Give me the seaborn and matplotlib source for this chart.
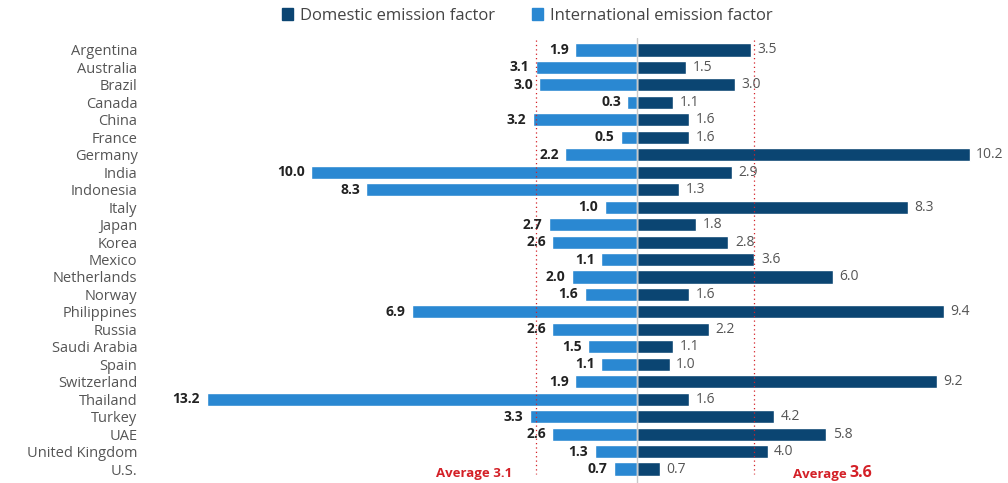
import numpy as np
import pandas as pd
import matplotlib.pyplot as plt
import seaborn as sns
from matplotlib.patches import Patch

countries = ["Argentina", "Australia", "Brazil", "Canada", "China", "France", "Germany", "India",
             "Indonesia", "Italy", "Japan", "Korea", "Mexico", "Netherlands", "Norway", "Philippines",
             "Russia", "Saudi Arabia", "Spain", "Switzerland", "Thailand", "Turkey", "UAE",
             "United Kingdom", "U.S."]
international = [1.9, 3.1, 3.0, 0.3, 3.2, 0.5, 2.2, 10.0, 8.3, 1.0, 2.7, 2.6, 1.1, 2.0, 1.6, 6.9,
                 2.6, 1.5, 1.1, 1.9, 13.2, 3.3, 2.6, 1.3, 0.7]
domestic = [3.5, 1.5, 3.0, 1.1, 1.6, 1.6, 10.2, 2.9, 1.3, 8.3, 1.8, 2.8, 3.6, 6.0, 1.6, 9.4,
            2.2, 1.1, 1.0, 9.2, 1.6, 4.2, 5.8, 4.0, 0.7]
avg_international = 3.1
avg_domestic = 3.6

dark_blue = "#0b4572"
light_blue = "#2a88d2"
red = "#d42027"

df = pd.DataFrame({"country": countries, "international": international, "domestic": domestic})
df["int_neg"] = -df["international"]

sns.set_style("white")
plt.rcParams['font.family'] = ['Open Sans', 'DejaVu Sans']

fig = plt.figure(figsize=(10.08, 4.83), dpi=100)
ax = fig.add_axes([150 / 1008, 0, 850 / 1008, 445 / 483])

sns.barplot(data=df, y="country", x="domestic", color=dark_blue, orient="h", width=0.75,
            saturation=1, ax=ax)
sns.barplot(data=df, y="country", x="int_neg", color=light_blue, orient="h", width=0.75,
            saturation=1, ax=ax)

ax.set_xlim(-14.94, 11.13)
ax.set_ylim(24.80, -0.687)

# center line
ax.axvline(0, color="#c8c8c8", lw=1, zorder=3)

# average lines
ax.vlines([-avg_international, avg_domestic], -0.6, 24.3, colors=red, linestyles=(0, (1, 2.5)),
          lw=0.9, zorder=4)

for i, (a, b) in enumerate(zip(international, domestic)):
    ax.text(-a - 0.2, i, f"{a:.1f}", ha="right", va="center", fontsize=10, fontweight="bold",
            color="#222222", zorder=5)
    ax.text(b + 0.2, i, f"{b:.1f}", ha="left", va="center", fontsize=10, color="#555555", zorder=5)

ax.text(-5.0, 24.25, f"Average {avg_international}", ha="center", va="center", fontsize=9.5,
        color=red, fontweight="bold")
ax.text(4.79, 24.3, "Average", ha="left", va="center", fontsize=9.5, color=red, fontweight="bold")
ax.text(6.5, 24.25, f"{avg_domestic}", ha="left", va="center", fontsize=11.5, color=red,
        fontweight="bold")

ax.set_xlabel("")
ax.set_ylabel("")
ax.set_xticks([])
ax.tick_params(axis="y", length=0, pad=9, labelsize=10.5, labelcolor="#555555")
for s in ax.spines.values():
    s.set_visible(False)

handles = [Patch(color=dark_blue, label="Domestic emission factor"),
           Patch(color=light_blue, label="International emission factor")]
fig.legend(handles=handles, loc="center", bbox_to_anchor=(527 / 1008, 1 - 16 / 483), ncol=2,
           frameon=False, fontsize=12, handlelength=0.7, handleheight=0.7, handletextpad=0.4,
           columnspacing=2.2, labelcolor="#444444")

fig.savefig("out.png", dpi=100)
